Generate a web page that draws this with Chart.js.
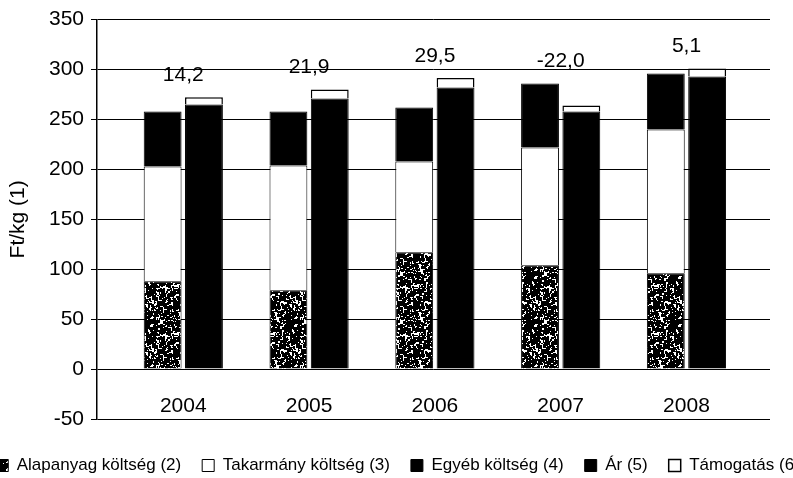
<!DOCTYPE html>
<html>
<head>
<meta charset="utf-8">
<script src="https://cdn.jsdelivr.net/npm/chart.js@4.4.1/dist/chart.umd.min.js"></script>
<style>
  html, body { margin: 0; padding: 0; background: #fff; overflow: hidden; }
  #wrap { position: absolute; left: -32px; top: 0; width: 860px; height: 484px; }
</style>
</head>
<body>
<div id="wrap"><canvas id="chart" width="860" height="484"></canvas></div>
<script>
const years = ['2004', '2005', '2006', '2007', '2008'];
const alapanyag = [88, 79, 117, 104, 96];
const takarmany = [115, 125, 91, 118, 144];
const egyeb = [55, 54, 54, 64, 56];
const ar = [265, 271, 282, 258, 293];
const tamogatas = [7.2, 9, 9.5, 6, 8.1];
const eredmeny = [14.2, 21.9, 29.5, -22.0, 5.1];

const TICK_FONT = { family: '"Liberation Sans", Arial, sans-serif', size: 21 };
const LEGEND_FONT = { family: '"Liberation Sans", Arial, sans-serif', size: 17 };

// speckled fill for the raw material cost, like the scanned original
function speckle() {
    const c = document.createElement('canvas');
    c.width = 48;
    c.height = 48;
    const g = c.getContext('2d');
    g.fillStyle = '#fff';
    g.fillRect(0, 0, 48, 48);
    g.fillStyle = '#000';
    let seed = 7;
    const rnd = () => (seed = (seed * 16807) % 2147483647) / 2147483647;
    for (let k = 0; k < 900; k++) {
        const w = 1 + Math.floor(rnd() * 3);
        const h = 1 + Math.floor(rnd() * 3);
        g.fillRect(Math.floor(rnd() * 48), Math.floor(rnd() * 48), w, h);
    }
    return g.createPattern(c, 'repeat');
}

const xy = arr => arr.map((v, i) => ({ x: i, y: v }));

// year names sit inside the plot, under the zero line; result above each pair
const inPlotLabels = {
    id: 'inPlotLabels',
    afterDatasetsDraw(chart) {
        const { ctx, scales: { x, y } } = chart;
        ctx.save();
        ctx.font = '21px "Liberation Sans", Arial, sans-serif';
        ctx.fillStyle = '#000';
        ctx.textAlign = 'center';
        ctx.textBaseline = 'middle';
        years.forEach((yr, i) => {
            ctx.fillText(yr, x.getPixelForValue(i), y.getPixelForValue(-37));
        });
        eredmeny.forEach((v, i) => {
            const top = Math.max(alapanyag[i] + takarmany[i] + egyeb[i], ar[i] + tamogatas[i]);
            ctx.fillText(v.toFixed(1).replace('.', ','), x.getPixelForValue(i), y.getPixelForValue(top) - 22);
        });
        ctx.restore();
    },
};

const common = { borderColor: '#000', borderWidth: 1, categoryPercentage: 0.657, barPercentage: 0.916 };

// eslint-disable-next-line no-new
new Chart(document.getElementById('chart'), {
    type: 'bar',
    data: {
        datasets: [
            { ...common, label: 'Alapanyag költség (2)', data: xy(alapanyag), stack: 'cost', backgroundColor: speckle() },
            { ...common, label: 'Takarmány költség (3)', data: xy(takarmany), stack: 'cost', backgroundColor: '#fff' },
            { ...common, label: 'Egyéb költség (4)', data: xy(egyeb), stack: 'cost', backgroundColor: '#000' },
            { ...common, label: 'Ár (5)', data: xy(ar), stack: 'rev', backgroundColor: '#000' },
            { ...common, label: 'Támogatás (6)', data: xy(tamogatas), stack: 'rev', backgroundColor: '#fff', borderWidth: 1.5 },
        ],
    },
    options: {
        responsive: false,
        animation: false,
        layout: { padding: { top: 18, right: 0, bottom: 0, left: 0 } },
        plugins: {
            legend: {
                position: 'bottom',
                labels: { boxWidth: 12, boxHeight: 12, padding: 21, color: '#000', font: LEGEND_FONT },
            },
            tooltip: { enabled: false },
        },
        scales: {
            x: {
                type: 'linear',
                offset: false,
                min: -0.686,
                max: 4.664,
                stacked: true,
                afterBuildTicks: s => { s.ticks = years.map((_, i) => ({ value: i })); },
                ticks: { display: false },
                grid: { display: false, drawTicks: false },
                border: { display: false },
                afterFit: s => { s.height = 17; },
            },
            y: {
                stacked: true,
                min: -50,
                max: 350,
                ticks: { stepSize: 50, color: '#000', font: TICK_FONT, padding: 7 },
                grid: { color: '#000', lineWidth: 1, tickLength: 6 },
                border: { color: '#000', width: 1.5 },
                title: { display: true, text: 'Ft/kg (1)', color: '#000', font: TICK_FONT, padding: { top: 38, bottom: 0 } },
                afterFit: s => { s.width = 129; },
            },
            // empty right-hand box, only keeps the plot clear of the right edge
            gap: {
                position: 'right',
                display: true,
                ticks: { display: false },
                grid: { display: false },
                border: { display: false },
                afterFit: s => { s.width = 58; },
            },
        },
    },
    plugins: [inPlotLabels],
});
</script>
</body>
</html>
